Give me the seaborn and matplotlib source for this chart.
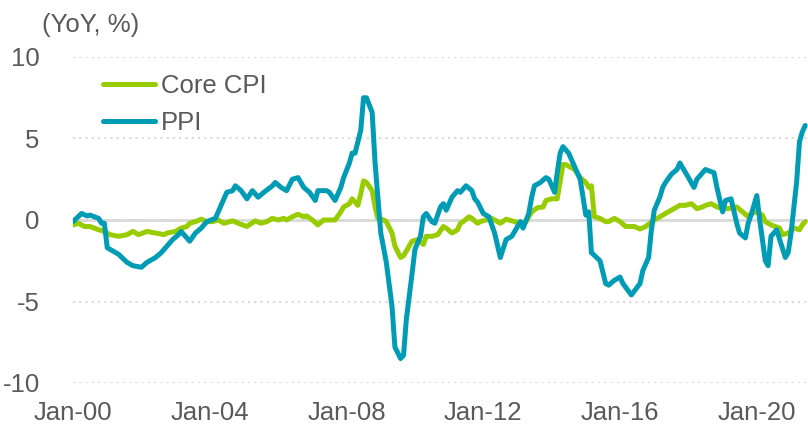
import matplotlib
matplotlib.use("Agg")
import matplotlib.pyplot as plt
import matplotlib.dates as mdates
import pandas as pd
import seaborn as sns

# ---- data ----
ppi_dates = ["2000-01","2000-04","2000-06","2000-07","2000-10","2000-11","2000-12","2001-01","2001-04","2001-05",
             "2001-08","2001-10","2002-01","2002-03","2002-06","2002-08","2002-10","2002-12","2003-02","2003-03",
             "2003-06","2003-08","2003-10","2003-12","2004-03","2004-05","2004-07","2004-09","2004-10","2004-12",
             "2005-02","2005-04","2005-06","2005-08","2005-11","2005-12","2006-02","2006-04","2006-06","2006-08",
             "2006-10","2006-12","2007-02","2007-03","2007-06","2007-07","2007-09","2007-11","2007-12","2008-02",
             "2008-03","2008-04","2008-06","2008-07","2008-08","2008-10","2008-11","2008-12","2009-01","2009-03",
             "2009-05","2009-06","2009-08","2009-09","2009-10","2009-12","2010-01","2010-03","2010-04","2010-05",
             "2010-07","2010-08","2010-10","2010-11","2010-12","2011-02","2011-04","2011-05","2011-07","2011-09",
             "2011-10","2011-11","2012-01","2012-03","2012-05","2012-07","2012-09","2012-11","2013-02","2013-03",
             "2013-05","2013-06","2013-07","2013-09","2013-11","2013-12","2014-02","2014-03","2014-04","2014-05",
             "2014-07","2014-09","2014-11","2014-12","2015-01","2015-02","2015-03","2015-06","2015-08","2015-09",
             "2015-11","2016-01","2016-02","2016-05","2016-08","2016-09","2016-11","2016-12","2017-01","2017-03",
             "2017-04","2017-05","2017-07","2017-09","2017-10","2017-12","2018-01","2018-03","2018-04","2018-06",
             "2018-07","2018-10","2018-11","2019-01","2019-02","2019-04","2019-06","2019-07","2019-09","2019-10",
             "2019-11","2020-01","2020-02","2020-04","2020-05","2020-06","2020-08","2020-09","2020-11","2020-12",
             "2021-01","2021-03","2021-04","2021-05","2021-06"]
ppi_values = [-0.1, 0.4, 0.25, 0.3, 0.1, -0.2, -0.2, -1.7, -2.0, -2.1,
              -2.6, -2.8, -2.9, -2.6, -2.3, -2.0, -1.6, -1.2, -0.9, -0.7,
              -1.3, -0.8, -0.5, -0.1, 0.1, 0.9, 1.7, 1.8, 2.1, 1.8,
              1.3, 1.8, 1.4, 1.7, 2.1, 2.3, 2.0, 1.8, 2.5, 2.6,
              2.0, 1.7, 1.2, 1.8, 1.8, 1.7, 1.2, 2.0, 2.6, 3.5,
              4.1, 4.1, 5.5, 7.5, 7.5, 6.6, 3.5, 1.4, -0.8, -2.6,
              -5.3, -7.8, -8.5, -8.3, -6.1, -3.3, -1.8, -1.0, 0.2, 0.4,
              -0.1, -0.2, 0.8, 1.0, 0.6, 1.4, 1.8, 1.7, 2.1, 1.8,
              1.3, 1.1, 0.4, 0.2, -0.8, -2.3, -1.2, -1.0, -0.1, -0.5,
              0.4, 1.4, 2.1, 2.3, 2.6, 2.5, 1.7, 2.9, 4.1, 4.5,
              4.1, 3.3, 2.5, 1.4, 0.3, 0.5, -2.0, -2.5, -3.9, -4.0,
              -3.7, -3.5, -3.9, -4.6, -3.9, -3.1, -2.3, -0.6, 0.6, 1.4,
              2.0, 2.3, 2.8, 3.1, 3.5, 2.9, 2.6, 2.0, 2.5, 2.9,
              3.1, 2.9, 2.0, 0.5, 1.2, 1.3, -0.2, -0.8, -1.1, -0.2,
              0.3, 1.5, 0.0, -2.5, -2.8, -1.0, -0.6, -1.2, -2.3, -2.0,
              -0.8, 2.3, 4.8, 5.4, 5.8]

core_dates = ["2000-01","2000-03","2000-05","2000-07","2000-10","2000-12","2001-02","2001-05","2001-08","2001-10",
              "2001-12","2002-03","2002-06","2002-09","2002-10","2003-01","2003-03","2003-05","2003-06","2003-08",
              "2003-10","2003-12","2004-02","2004-04","2004-06","2004-09","2004-11","2005-02","2005-05","2005-07",
              "2005-09","2005-11","2006-01","2006-03","2006-04","2006-06","2006-08","2006-10","2006-11","2007-01",
              "2007-03","2007-05","2007-07","2007-09","2007-11","2007-12","2008-02","2008-03","2008-05","2008-06",
              "2008-07","2008-08","2008-10","2008-11","2008-12","2009-02","2009-03","2009-05","2009-06","2009-08",
              "2009-09","2009-11","2009-12","2010-02","2010-04","2010-05","2010-07","2010-09","2010-11","2010-12",
              "2011-02","2011-04","2011-05","2011-06","2011-08","2011-09","2011-11","2011-12","2012-02","2012-04",
              "2012-07","2012-09","2012-12","2013-02","2013-04","2013-06","2013-08","2013-10","2013-11","2014-01",
              "2014-03","2014-05","2014-06","2014-09","2014-11","2015-01","2015-02","2015-03","2015-04","2015-06",
              "2015-08","2015-09","2015-11","2016-01","2016-03","2016-06","2016-08","2016-10","2017-01","2017-03",
              "2017-05","2017-08","2017-10","2017-12","2018-02","2018-04","2018-06","2018-07","2018-09","2018-11",
              "2019-01","2019-03","2019-06","2019-08","2019-10","2019-11","2020-01","2020-03","2020-04","2020-06",
              "2020-09","2020-10","2020-12","2021-02","2021-04","2021-05","2021-06"]
core_values = [-0.3, -0.2, -0.4, -0.4, -0.6, -0.7, -0.9, -1.0, -0.9, -0.7,
               -0.9, -0.7, -0.8, -0.9, -0.8, -0.7, -0.5, -0.4, -0.2, -0.1,
               0.05, -0.1, -0.1, 0.0, -0.2, -0.05, -0.2, -0.4, -0.05, -0.2,
               -0.1, 0.1, 0.0, 0.1, 0.0, 0.2, 0.35, 0.2, 0.25, 0.0,
               -0.3, 0.0, 0.0, 0.0, 0.5, 0.8, 1.0, 1.3, 0.9, 1.6,
               2.4, 2.3, 1.8, 0.8, 0.1, 0.0, -0.1, -0.8, -1.6, -2.3,
               -2.2, -1.6, -1.3, -1.2, -1.5, -1.0, -1.0, -0.9, -0.4, -0.5,
               -0.8, -0.6, -0.2, -0.1, 0.2, 0.1, -0.2, -0.1, 0.0, 0.1,
               -0.2, 0.05, -0.1, -0.25, -0.1, 0.5, 0.75, 0.8, 1.2, 1.3,
               1.3, 3.4, 3.4, 3.1, 2.6, 2.3, 2.0, 2.1, 0.2, 0.1,
               -0.1, -0.1, 0.1, -0.1, -0.4, -0.4, -0.55, -0.4, 0.0, 0.2,
               0.4, 0.7, 0.9, 0.9, 1.0, 0.7, 0.8, 0.9, 1.0, 0.8,
               0.7, 0.7, 0.8, 0.5, 0.2, 0.4, 0.5, 0.3, -0.1, -0.3,
               -0.5, -0.9, -0.8, -0.5, -0.6, -0.3, -0.1]

series_names = ["Core CPI", "PPI"]
series_colors = ["#99CC00", "#009BB5"]
y_ticks = [-10, -5, 0, 5, 10]
x_tick_years = [2000, 2004, 2008, 2012, 2016, 2020]
y_label = "(YoY, %)"

# ---- styling ----
sns.set_style("white")
plt.rcParams["font.family"] = ["Liberation Sans", "DejaVu Sans"]
TXT = "#595959"
GRID = "#d9d9d9"
FS = 18.5

fig = plt.figure(figsize=(8.08, 4.25), dpi=100)
ax = fig.add_axes([73 / 808, 1 - 383 / 425, 735 / 808, 326 / 425])

core_df = pd.DataFrame({"date": pd.to_datetime(core_dates), "value": core_values})
ppi_df = pd.DataFrame({"date": pd.to_datetime(ppi_dates), "value": ppi_values})

lw = 3.6
sns.lineplot(data=core_df, x="date", y="value", color=series_colors[0], lw=lw,
             label=series_names[0], ax=ax, zorder=3,
             solid_joinstyle="round", solid_capstyle="round")
sns.lineplot(data=ppi_df, x="date", y="value", color=series_colors[1], lw=lw,
             label=series_names[1], ax=ax, zorder=4,
             solid_joinstyle="round", solid_capstyle="round")

ax.set_ylim(-10, 10)
ax.set_xlim(pd.Timestamp("2000-01-01"), pd.Timestamp("2021-07-01"))
ax.set_yticks(y_ticks)
ax.set_yticklabels([str(v) for v in y_ticks])
ax.set_xticks([pd.Timestamp(f"{y}-01-01") for y in x_tick_years])
ax.xaxis.set_major_formatter(mdates.DateFormatter("%b-%y"))
ax.set_xlabel("")
ax.set_ylabel("")

# gridlines (dotted) for non-zero levels
ax.yaxis.grid(True, color=GRID, linestyle=(0, (1, 2)), lw=1.5, zorder=0)
ax.xaxis.grid(False)
ax.set_axisbelow(True)

for s in ["top", "right", "left"]:
    ax.spines[s].set_visible(False)
ax.spines["bottom"].set_position(("data", 0))
ax.spines["bottom"].set_color(GRID)
ax.spines["bottom"].set_linewidth(2)
ax.spines["bottom"].set_zorder(2)

ax.tick_params(axis="x", direction="out", length=5, width=1.5, color=GRID,
               labelcolor=TXT, labelsize=FS, pad=125.5)
ax.tick_params(axis="y", length=0, labelcolor=TXT, labelsize=FS, pad=24)

leg = ax.legend(loc="upper left", bbox_to_anchor=(0.041, 0.948), frameon=False,
                fontsize=FS, handlelength=2.0, handletextpad=0.25,
                labelspacing=0.5, borderpad=0, borderaxespad=0)
for t in leg.get_texts():
    t.set_color(TXT)
for h in leg.legend_handles:
    h.set_linewidth(lw)
    h.set_solid_capstyle("round")

fig.text(42 / 808, 1 - 25 / 425, y_label, ha="left", va="center",
         fontsize=FS, color=TXT)

fig.savefig("out.png", dpi=100)
